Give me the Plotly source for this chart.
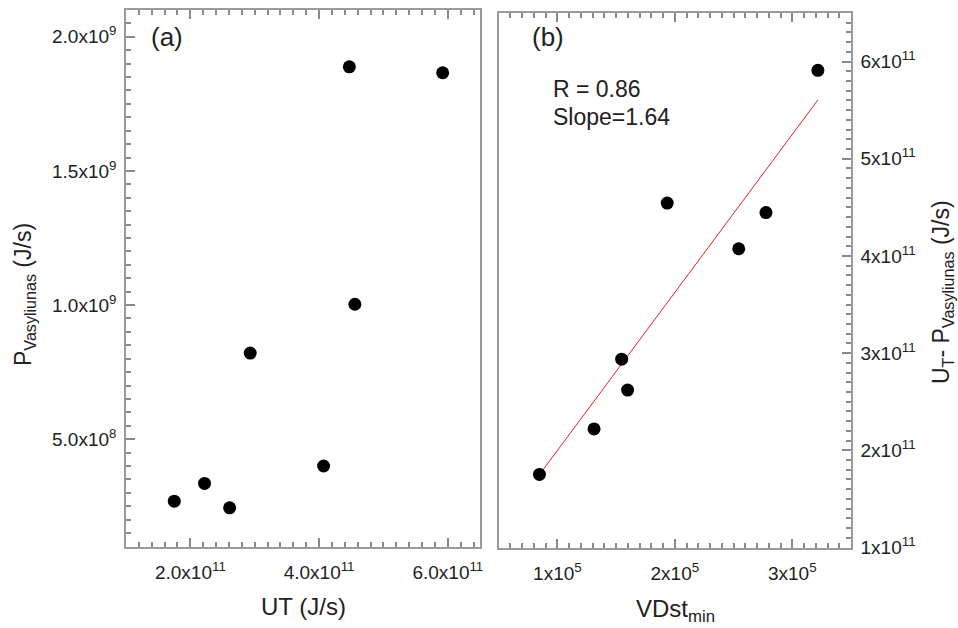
import plotly.graph_objects as go

# ---- data ----
ut = [1.75e11, 2.22e11, 2.61e11, 2.93e11, 4.07e11, 4.47e11, 4.556e11, 5.92e11]
p_vas = [0.269e9, 0.335e9, 0.244e9, 0.821e9, 0.40e9, 1.888e9, 1.003e9, 1.866e9]

vdst_min = [0.847e5, 1.312e5, 1.547e5, 1.598e5, 1.935e5, 2.544e5, 2.776e5, 3.218e5]
ut_minus_pv = [1.752e11, 2.22e11, 2.938e11, 2.62e11, 4.544e11, 4.074e11, 4.446e11, 5.91e11]

fit_x = [0.847e5, 3.218e5]
fit_y = [1.75e11, 5.605e11]

a_xticks = [2.0e11, 4.0e11, 6.0e11]
a_xlabels = ["2.0x10<sup>11</sup>", "4.0x10<sup>11</sup>", "6.0x10<sup>11</sup>"]
a_yticks = [5.0e8, 1.0e9, 1.5e9, 2.0e9]
a_ylabels = ["5.0x10<sup>8</sup>", "1.0x10<sup>9</sup>", "1.5x10<sup>9</sup>", "2.0x10<sup>9</sup>"]
b_xticks = [1e5, 2e5, 3e5]
b_xlabels = ["1x10<sup>5</sup>", "2x10<sup>5</sup>", "3x10<sup>5</sup>"]
b_yticks = [1e11, 2e11, 3e11, 4e11, 5e11, 6e11]
b_ylabels = ["1x10<sup>11</sup>", "2x10<sup>11</sup>", "3x10<sup>11</sup>",
             "4x10<sup>11</sup>", "5x10<sup>11</sup>", "6x10<sup>11</sup>"]

W, H = 958, 628
def fx(p):
    return p / W
def fy(p):
    return 1 - p / H

def minor_vals(lo, hi, step):
    n0 = int(round(lo / step))
    n1 = int(round(hi / step))
    return [k * step for k in range(n0, n1 + 1)]

FONT = "Liberation Sans, Arial, sans-serif"
TXT = "#222222"
FRAME = "#9a9a9a"
TICK = "#8a8a8a"

fig = go.Figure()
fig.add_trace(go.Scatter(x=ut, y=p_vas, mode="markers",
                         marker=dict(color="black", size=13, line=dict(width=0)),
                         xaxis="x", yaxis="y", showlegend=False))
fig.add_trace(go.Scatter(x=fit_x, y=fit_y, mode="lines",
                         line=dict(color="#e82020", width=1),
                         xaxis="x2", yaxis="y2", showlegend=False))
fig.add_trace(go.Scatter(x=vdst_min, y=ut_minus_pv, mode="markers",
                         marker=dict(color="black", size=13, line=dict(width=0)),
                         xaxis="x2", yaxis="y2", showlegend=False))

common = dict(showgrid=False, zeroline=False, showline=True, linecolor=FRAME,
              linewidth=1.5, ticks="inside", tickcolor=TICK, ticklen=9,
              tickwidth=1.5, tickfont=dict(family=FONT, size=19, color=TXT),
              automargin=False, tickmode="array")

def minor(vals):
    return dict(tickmode="array", tickvals=vals, ticks="inside",
                ticklen=5, tickcolor=TICK, tickwidth=1.5)

fig.update_layout(
    template="none",
    width=W, height=H,
    margin=dict(l=0, r=0, t=0, b=0),
    paper_bgcolor="white", plot_bgcolor="white",
    font=dict(family=FONT, color=TXT),
    xaxis=dict(common, domain=[fx(126), fx(480)], range=[1.0e11, 6.5e11],
               tickvals=a_xticks, ticktext=a_xlabels, anchor="y", mirror="ticks",
               ticklabelstandoff=8,
               minor=minor(minor_vals(1.0e11, 6.5e11, 2e10))),
    yaxis=dict(common, domain=[fy(546.5), fy(10)], range=[1.0e8, 2.1e9],
               tickvals=a_yticks, ticktext=a_ylabels, anchor="x", mirror=True,
               ticklabelstandoff=4,
               minor=minor(minor_vals(1.0e8, 2.1e9, 5e7))),
    xaxis2=dict(common, domain=[fx(498.7), fx(851)], range=[0.5e5, 3.5e5],
                tickvals=b_xticks, ticktext=b_xlabels, anchor="y2", mirror="ticks",
                ticklabelstandoff=8,
                minor=minor(minor_vals(0.5e5, 3.5e5, 1e4))),
    yaxis2=dict(common, domain=[fy(547.5), fy(13)], range=[1e11, 6.5e11],
                tickvals=b_yticks, ticktext=b_ylabels, anchor="x2", side="right",
                mirror=True, ticklabelstandoff=4,
                minor=minor(minor_vals(1e11, 6.5e11, 1e10))),
)

def ann(text, x, y, size, angle=0, xanchor="center", yanchor="middle"):
    fig.add_annotation(text=text, x=fx(x), y=fy(y), xref="paper", yref="paper",
                       showarrow=False, textangle=angle, xanchor=xanchor,
                       yanchor=yanchor, font=dict(family=FONT, size=size, color=TXT))

ann("(a)", 149, 37, 26, xanchor="left")
ann("(b)", 530, 37, 26, xanchor="left")
ann("R = 0.86", 551, 89, 23, xanchor="left")
ann("Slope=1.64", 551, 117, 23, xanchor="left")
ann("UT (J/s)", 303, 606, 24)
ann("VDst<sub>min</sub>", 675, 610, 24)
ann("P<sub>Vasyliunas</sub> (J/s)", 24, 295, 23, angle=-90)
ann("U<sub>T</sub>- P<sub>Vasyliunas</sub> (J/s)", 942, 292, 23, angle=-90)

fig.write_html("out.html")
